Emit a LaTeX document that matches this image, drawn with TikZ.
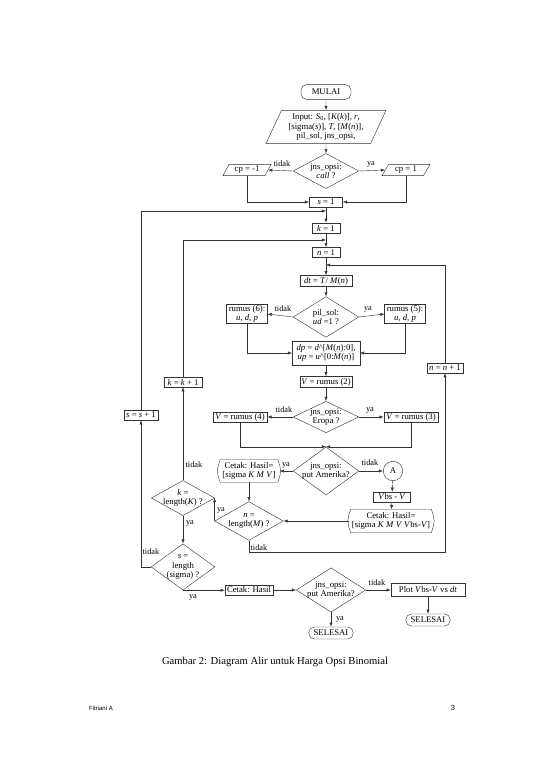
\documentclass[tikz,border=0pt]{standalone}
\usepackage{fontspec}
\setmainfont{Liberation Serif}
\newfontfamily\footfont{Liberation Sans}
\usetikzlibrary{shapes.geometric,arrows.meta}
\newcommand\iv[1]{\textit{#1}}
\begin{document}
\begin{tikzpicture}[x=1.0818pt,y=-1.0818pt, font=\fontsize{9.4}{10.2}\selectfont,
 line/.style={draw=black!80, line width=0.45pt},
 arr/.style={line, -{Latex[length=4.5pt,width=3.4pt]}},
 box/.style={draw=black!80, line width=0.45pt, rectangle, inner sep=1pt, align=center},
 term/.style={box, rounded corners=6pt},
 para/.style={trapezium, trapezium left angle=65, trapezium right angle=115, trapezium stretches=true, draw=black!80, line width=0.45pt, inner sep=1pt, align=center},
 dia/.style={diamond, draw=black!80, line width=0.45pt, inner sep=0pt},
 dtxt/.style={align=center, inner sep=0pt},
 tape/.style={rectangle, inner sep=1pt, align=center},
 lbl/.style={inner sep=0pt, font=\fontsize{9}{10}\selectfont},
]
\useasboundingbox (0,0) rectangle (550,777);
% nodes
\node[term, minimum width=54pt, minimum height=16pt] (start) at (326,92) {MULAI};
\node[para, minimum width=130pt, minimum height=36pt] (inp) at (326,127) {Input: \iv{S}\textsubscript{0}, {[}\iv{K}(\iv{k}){]}, \iv{r},\\ {[}sigma(\iv{s}){]}, \iv{T}, {[}\iv{M}(\iv{n}){]},\\ pil\_sol, jns\_opsi,};
\node[dia, minimum width=71pt, minimum height=38pt] (d1) at (326,171) {};
\node[dtxt] (d1t) at (d1) {jns\_opsi:\\ \iv{call} ?};
\node[para, minimum width=52pt, minimum height=12pt] (cpm) at (247,170) {cp = -1};
\node[para, minimum width=52pt, minimum height=12pt] (cpp) at (406,170) {cp = 1};
\node[box, minimum width=36pt, minimum height=11pt] (s1) at (326,202) {\iv{s} = 1};
\node[box, minimum width=30pt, minimum height=11pt] (k1) at (326,228) {\iv{k} = 1};
\node[box, minimum width=30pt, minimum height=11pt] (n1) at (326,252.5) {\iv{n} = 1};
\node[box, minimum width=56pt, minimum height=12pt] (dt) at (326,281) {\iv{dt} = \iv{T}/ \iv{M}(\iv{n})};
\node[dia, minimum width=71pt, minimum height=44pt] (d2) at (326,317) {};
\node[dtxt] (d2t) at (d2) {pil\_sol:\\ \iv{ud} =1 ?};
\node[box, minimum width=44pt, minimum height=20pt] (r6) at (247,314) {rumus (6):\\ \iv{u}, \iv{d}, \iv{p}};
\node[box, minimum width=44pt, minimum height=20pt] (r5) at (405,314) {rumus (5):\\ \iv{u}, \iv{d}, \iv{p}};
\node[box, minimum width=73pt, minimum height=26pt] (dp) at (326,353) {\iv{dp} = \iv{d}\^{}{[}\iv{M}(\iv{n}):0{]},\\ \iv{up} = \iv{u}\^{}{[}0:\iv{M}(\iv{n}){]}};
\node[box, minimum width=39pt, minimum height=11pt] (nn) at (445,368) {\iv{n} = \iv{n} + 1};
\node[box, minimum width=41pt, minimum height=11pt] (kk) at (183,382) {\iv{k} = \iv{k} + 1};
\node[box, minimum width=56pt, minimum height=12pt] (v2) at (326,382) {\iv{V} = rumus (2)};
\node[box, minimum width=37pt, minimum height=11pt] (ss) at (141,415) {\iv{s} = \iv{s} + 1};
\node[dia, minimum width=71pt, minimum height=34pt] (d3) at (326,417) {};
\node[dtxt] (d3t) at (d3) {jns\_opsi:\\ Eropa ?};
\node[box, minimum width=59pt, minimum height=11pt] (v4) at (240,417) {\iv{V} = rumus (4)};
\node[box, minimum width=59pt, minimum height=11pt] (v3) at (411,417) {\iv{V} = rumus (3)};
\node[dia, minimum width=71pt, minimum height=52pt] (d4) at (326,471) {};
\node[dtxt] (d4t) at (d4) {jns\_opsi:\\ put Amerika?};
\node[tape, minimum width=66pt, minimum height=24pt] (c1) at (249,471) {Cetak: Hasil=\\ {[}sigma \iv{K} \iv{M} \iv{V}{]}};
\node[circle, draw=black!80, line width=0.45pt, minimum size=21pt, inner sep=0pt] (A) at (393,471) {A};
\node[box, minimum width=40pt, minimum height=11pt] (vbs) at (392,497) {\iv{V}bs - \iv{V}};
\node[tape, minimum width=91pt, minimum height=25pt] (c2) at (391,521) {Cetak: Hasil=\\ {[}sigma \iv{K} \iv{M} \iv{V} \iv{V}bs-\iv{V}{]}};
\node[dia, minimum width=74pt, minimum height=42pt] (d5) at (249,521) {};
\node[dtxt] (d5t) at (d5) {\iv{n} =\\ length(\iv{M}) ?};
\node[dia, minimum width=68.5pt, minimum height=38pt] (d6) at (183,498) {};
\node[dtxt] (d6t) at (d6) {\iv{k} =\\ length(\iv{K}) ?};
\node[dia, minimum width=69pt, minimum height=50pt] (d7) at (183,566.9) {};
\node[dtxt] (d7t) at (d7) {\iv{s} =\\ length\\ (sigma) ?};
\node[box, minimum width=52pt, minimum height=11pt] (ch) at (249,590) {Cetak: Hasil};
\node[dia, minimum width=75pt, minimum height=48pt] (d8) at (331,590) {};
\node[dtxt] (d8t) at (d8) {jns\_opsi:\\ put Amerika?};
\node[box, minimum width=80pt, minimum height=14pt] (plot) at (428,590) {Plot \iv{V}bs-\iv{V} vs \iv{dt}};
\node[term, minimum width=48pt, minimum height=13pt] (se1) at (331,633) {SELESAI};
\node[term, minimum width=48pt, minimum height=13pt] (se2) at (428,620) {SELESAI};
% tape outlines
\foreach \t in {c1,c2}{
 \draw[line] ([xshift=2pt]\t.north west) -- ([xshift=-2pt]\t.north east)
   .. controls ([xshift=2pt]\t.east) .. ([xshift=-2pt]\t.south east)
   -- ([xshift=2pt]\t.south west)
   .. controls ([xshift=-2pt]\t.west) .. cycle;
}
% loop coordinates
\coordinate (st) at (326,211);
\coordinate (kt) at (326,240);
\coordinate (nt) at (326,265);
\coordinate (nb) at (445,552);
% connectors
\draw[arr] (start) -- (inp);
\draw[arr] (inp.south) -- (d1.north);
\draw[arr] (d1.west) -- (cpm.east);
\draw[arr] (d1.east) -- (cpp.west);
\draw[arr] (cpm.south) |- (s1.west);
\draw[arr] (cpp.south) |- (s1.east);
\draw[arr] (s1) -- (k1);
\draw[arr] (k1) -- (n1);
\draw[arr] (n1) -- (dt);
\draw[arr] (dt) -- (d2.north);
\draw[arr] (d2.west) -- (r6.east);
\draw[arr] (d2.east) -- (r5.west);
\draw[arr] (r6.south) |- (dp.west);
\draw[arr] (r5.south) |- (dp.east);
\draw[arr] (dp) -- (v2);
\draw[arr] (v2) -- (d3.north);
\draw[arr] (d3.west) -- (v4.east);
\draw[arr] (d3.east) -- (v3.west);
\draw[arr] (v4.south) |- (d4.north);
\draw[arr] (v3.south) |- (d4.north);
\draw[arr] (d4.west) -- (c1.east);
\draw[arr] (d4.east) -- (A.west);
\draw[arr] (A) -- (vbs);
\draw[arr] (vbs) -- (c2);
\draw[arr] (c2.west) -- (d5.east);
\draw[arr] (c1.south) -- (d5.north);
\draw[arr] (d5.west) -- (d5.west |- d6.east);
\draw[arr] (d5.south) |- (nb) -- (nn.south);
\draw[arr] (nn.north) |- (nt);
\draw[arr] (d6.north) -- (kk.south);
\draw[arr] (kk.north) |- (kt);
\draw[arr] (d6.south) -- (d7.north);
\draw[arr] (d7.west) -| (ss.south);
\draw[arr] (ss.north) |- (st);
\draw[arr] (d7.south) -- (d7.south -| ch.west);
\draw[arr] (ch) -- (d8.west);
\draw[arr] (d8.east) -- (plot.west);
\draw[arr] (d8.south) -- (se1);
\draw[arr] (plot.south) -- (se2.north);
% labels
\node[lbl] (l1) at (282,164) {tidak};
\node[lbl] (l2) at (371,164) {ya};
\node[lbl] (l3) at (283,309) {tidak};
\node[lbl] (l4) at (368,309) {ya};
\node[lbl] (l5) at (284,410) {tidak};
\node[lbl] (l6) at (370,410) {ya};
\node[lbl] (l7) at (286,465) {ya};
\node[lbl] (l8) at (370,463) {tidak};
\node[lbl] (l9) at (194,465) {tidak};
\node[lbl] (l10) at (190,523) {ya};
\node[lbl] (l11) at (221,510) {ya};
\node[lbl] (l12) at (259,548) {tidak};
\node[lbl] (l13) at (151,552) {tidak};
\node[lbl] (l14) at (193,597) {ya};
\node[lbl] (l15) at (377,583) {tidak};
\node[lbl] (l16) at (340,619) {ya};
% caption and footer
\node (cap) at (275,662) {\fontsize{11.5}{13}\selectfont Gambar 2: Diagram Alir untuk Harga Opsi Binomial};
\node (ft) at (101,708) {\footfont\fontsize{6.5}{8}\selectfont Fitriani A};
\node (pg) at (453,708) {\footfont\fontsize{8}{9}\selectfont 3};
\end{tikzpicture}
\end{document}
